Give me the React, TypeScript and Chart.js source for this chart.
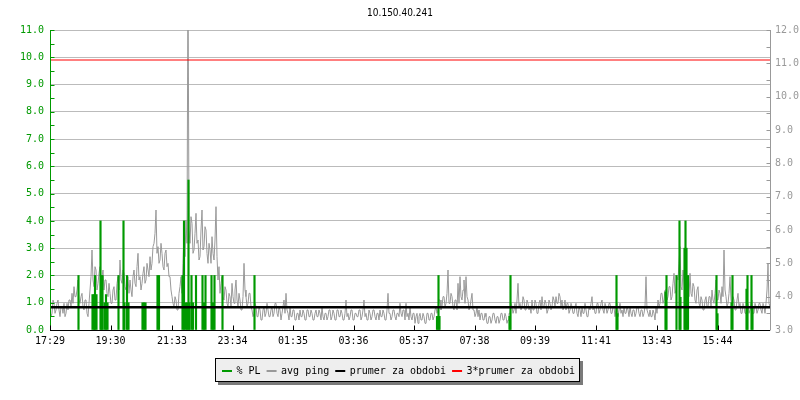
import React, { useEffect, useRef } from "react";
import { Chart, registerables } from "chart.js";

Chart.register(...registerables);

const TITLE = "10.150.40.241";
const START_TIME = "17:29";
const SPAN_MIN = 1440;
const STEP_MIN = 2;
const TIME_LABELS = ["17:29", "19:30", "21:33", "23:34", "01:35", "03:36", "05:37", "07:38", "09:39", "11:41", "13:43", "15:44"];
const SERIES_NAMES = ["% PL", "avg ping", "prumer za obdobi", "3*prumer za obdobi"];

// avg ping (ms), one sample every 2 minutes from 17:29
const PING_MS = [
  3.7, 3.4, 3.5, 3.9, 3.8, 3.5, 3.6, 3.8, 3.9, 3.6, 3.4, 3.7, 3.7, 3.5, 3.8, 3.4, 3.5, 3.8, 3.6, 3.9,
  3.9, 3.7, 4.1, 3.8, 4.3, 4.0, 4.0, 4.2, 4.5, 3.9, 3.8, 4.0, 4.1, 3.7, 3.6, 3.9, 3.9, 3.5, 3.4, 3.8,
  4.2, 4.6, 5.4, 4.5, 4.3, 4.9, 4.8, 4.2, 4.4, 4.7, 4.9, 4.3, 4.6, 4.8, 4.2, 4.5, 4.5, 4.1, 4.0, 4.4,
  4.1, 3.8, 3.8, 4.2, 4.3, 3.9, 3.9, 4.4, 4.6, 4.2, 5.1, 4.5, 4.4, 4.8, 4.7, 4.3, 4.2, 4.5, 4.6, 4.1,
  4.5, 4.2, 4.0, 4.6, 4.8, 4.4, 4.3, 4.9, 5.3, 4.5, 4.6, 4.2, 4.4, 4.7, 4.9, 4.4, 4.5, 5.0, 4.8, 4.6,
  5.2, 4.8, 5.0, 5.5, 5.6, 5.9, 6.6, 5.3, 5.5, 5.0, 5.1, 5.6, 5.3, 4.9, 4.8, 5.3, 5.4, 4.9, 5.0, 4.6,
  4.6, 4.2, 4.0, 3.8, 3.7, 4.0, 3.9, 3.6, 3.6, 4.1, 4.3, 4.6, 4.1, 5.0, 5.9, 5.2, 6.3, 5.6, 14.0, 6.0,
  5.6, 6.4, 6.2, 5.3, 5.4, 5.9, 6.5, 5.6, 5.7, 5.1, 5.2, 6.0, 6.6, 5.4, 5.5, 6.1, 6.0, 5.3, 5.0, 5.6,
  5.4, 5.0, 5.8, 5.3, 5.1, 5.7, 6.7, 5.2, 4.5, 4.9, 4.1, 4.4, 4.6, 4.0, 3.9, 4.3, 4.2, 3.8, 3.7, 4.1,
  4.0, 3.7, 4.4, 4.0, 3.8, 4.2, 4.5, 3.9, 3.7, 4.1, 3.9, 3.6, 3.6, 4.0, 5.0, 4.2, 4.0, 3.7, 3.8, 4.1,
  4.1, 3.7, 3.6, 3.4, 3.5, 3.8, 3.7, 3.4, 3.4, 3.7, 3.6, 3.3, 3.3, 3.6, 3.7, 3.4, 3.5, 3.8, 3.6, 3.4,
  3.4, 3.6, 3.7, 3.4, 3.5, 3.8, 3.8, 3.5, 3.4, 3.7, 3.6, 3.3, 3.5, 3.7, 3.9, 3.5, 4.1, 3.6, 3.5, 3.3,
  3.7, 3.4, 3.4, 3.6, 3.6, 3.3, 3.3, 3.5, 3.5, 3.3, 3.6, 3.4, 3.4, 3.6, 3.5, 3.3, 3.3, 3.6, 3.6, 3.4,
  3.4, 3.6, 3.5, 3.3, 3.3, 3.5, 3.6, 3.4, 3.4, 3.6, 3.5, 3.3, 3.7, 3.4, 3.3, 3.5, 3.5, 3.3, 3.4, 3.6,
  3.6, 3.3, 3.4, 3.6, 3.5, 3.3, 3.3, 3.6, 3.6, 3.4, 3.4, 3.6, 3.5, 3.3, 3.3, 3.5, 3.9, 3.4, 3.5, 3.3,
  3.4, 3.6, 3.6, 3.3, 3.3, 3.5, 3.5, 3.4, 3.4, 3.6, 3.6, 3.3, 3.4, 3.6, 3.9, 3.4, 3.5, 3.3, 3.3, 3.6,
  3.5, 3.3, 3.4, 3.6, 3.6, 3.4, 3.3, 3.5, 3.5, 3.3, 3.6, 3.4, 3.4, 3.6, 3.5, 3.3, 3.3, 3.6, 4.1, 3.5,
  3.5, 3.3, 3.4, 3.6, 3.6, 3.4, 3.3, 3.5, 3.5, 3.4, 3.8, 3.5, 3.4, 3.6, 3.6, 3.3, 3.8, 3.4, 3.5, 3.3,
  3.7, 3.4, 3.3, 3.5, 3.5, 3.2, 3.4, 3.5, 3.2, 3.4, 3.5, 3.3, 3.3, 3.5, 3.4, 3.2, 3.2, 3.5, 3.5, 3.3,
  3.3, 3.5, 3.5, 3.3, 3.4, 3.6, 3.7, 3.5, 3.6, 3.9, 3.9, 3.6, 3.7, 4.0, 4.0, 3.7, 3.8, 4.1, 4.8, 3.8,
  3.8, 4.1, 4.0, 3.7, 3.6, 3.9, 3.9, 3.6, 4.4, 3.8, 4.6, 4.0, 3.9, 4.2, 4.5, 3.8, 4.6, 4.0, 3.9, 3.6,
  3.7, 3.9, 4.1, 3.6, 3.6, 3.4, 3.5, 3.7, 3.4, 3.6, 3.3, 3.5, 3.5, 3.3, 3.3, 3.5, 3.4, 3.2, 3.2, 3.4,
  3.4, 3.2, 3.3, 3.5, 3.5, 3.3, 3.2, 3.4, 3.4, 3.2, 3.3, 3.5, 3.5, 3.3, 3.3, 3.5, 3.4, 3.2, 3.3, 3.5,
  3.5, 3.8, 3.7, 3.5, 3.6, 3.8, 3.5, 3.9, 4.4, 3.7, 3.8, 3.6, 3.7, 4.0, 3.9, 3.6, 3.6, 3.9, 3.8, 3.6,
  3.7, 3.5, 3.9, 3.6, 3.6, 3.9, 3.8, 3.5, 3.5, 3.8, 3.9, 3.6, 4.0, 3.7, 3.7, 3.9, 3.8, 3.5, 3.6, 3.9,
  3.8, 3.6, 3.7, 4.0, 3.9, 3.7, 4.0, 3.8, 3.8, 4.1, 4.0, 3.7, 3.9, 3.6, 3.7, 3.9, 3.6, 3.8, 3.8, 3.5,
  3.6, 3.8, 3.7, 3.5, 3.5, 3.7, 3.8, 3.5, 3.4, 3.7, 3.6, 3.4, 3.7, 3.5, 3.5, 3.8, 3.6, 3.4, 3.4, 3.7,
  3.6, 3.8, 4.0, 3.6, 3.7, 3.5, 3.5, 3.8, 3.8, 3.5, 3.6, 3.8, 3.9, 3.6, 3.5, 3.8, 3.7, 3.5, 3.6, 3.8,
  3.8, 3.5, 3.5, 3.7, 3.7, 3.4, 3.6, 3.8, 3.4, 3.6, 3.8, 3.5, 3.6, 3.4, 3.7, 3.5, 3.5, 3.7, 3.6, 3.4,
  3.7, 3.5, 3.4, 3.6, 3.6, 3.4, 3.5, 3.7, 3.7, 3.5, 3.4, 3.6, 3.6, 3.4, 3.5, 3.7, 4.6, 3.6, 3.5, 3.4,
  3.6, 3.4, 3.4, 3.6, 3.5, 3.3, 3.7, 3.5, 3.9, 3.7, 3.8, 4.1, 4.1, 3.8, 3.9, 4.2, 4.2, 3.9, 4.0, 4.3,
  4.3, 3.9, 4.0, 4.4, 4.7, 4.1, 4.2, 4.6, 4.5, 5.0, 5.5, 4.3, 4.2, 4.8, 4.5, 4.0, 3.9, 4.4, 4.3, 4.0,
  4.7, 4.1, 4.0, 4.4, 4.3, 3.9, 3.8, 4.2, 4.3, 3.8, 3.7, 4.0, 3.9, 3.6, 3.6, 3.9, 4.0, 3.7, 3.7, 4.0,
  4.0, 3.7, 4.2, 3.9, 3.8, 4.1, 4.5, 3.9, 3.9, 4.2, 4.1, 3.8, 4.3, 4.0, 5.4, 4.2, 4.0, 3.7, 3.8, 4.1,
  4.6, 3.9, 3.7, 4.0, 3.9, 3.6, 3.6, 3.9, 4.1, 3.7, 3.8, 3.5, 3.5, 3.8, 3.7, 3.5, 3.5, 3.8, 3.8, 3.5,
  3.6, 3.8, 3.9, 3.5, 3.5, 3.8, 3.7, 3.5, 3.6, 3.8, 3.8, 3.6, 3.5, 3.8, 3.7, 3.5, 3.8, 4.2, 5.0, 3.8, 3.7,
];

// packet loss (%), minutes after 17:29 where loss was nonzero
const PL_MIN = [
  57, 85, 88, 90, 93, 101, 103, 105, 109, 112,
  115, 137, 147, 149, 154, 157, 185, 188, 191, 215,
  218, 265, 268, 271, 274, 277, 279, 283, 286, 292,
  305, 308, 311, 323, 326, 329, 345, 409, 774, 777,
  779, 919, 921, 1133, 1135, 1231, 1233, 1253, 1259, 1261,
  1269, 1271, 1273, 1276, 1333, 1335, 1363, 1365, 1393, 1395,
  1403, 1405,
];
const PL_PCT = [
  2.0, 1.3, 1.3, 2.0, 1.3, 4.0, 2.0, 2.0, 1.0, 1.3,
  1.0, 2.0, 4.0, 1.0, 2.0, 1.0, 1.0, 1.0, 1.0, 2.0,
  2.0, 2.0, 4.0, 1.0, 1.0, 5.5, 1.0, 2.0, 1.0, 2.0,
  2.0, 1.0, 2.0, 2.0, 1.0, 2.0, 2.0, 2.0, 0.5, 2.0,
  0.5, 0.5, 2.0, 2.0, 0.6, 1.4, 2.0, 2.0, 4.0, 1.2,
  3.0, 4.0, 3.0, 2.0, 2.0, 0.6, 1.0, 2.0, 1.5, 2.0,
  2.0, 0.8,
];

const AVG_MS = 3.68;
const AVG3_MS = 11.1;

const GREEN = "#009900";
const GREY = "#999999";
const BLACK = "#000000";
const RED = "#ff0000";
const MONO = '"DejaVu Sans Mono", monospace';

const toMin = (t: string) => {
  const [h, m] = t.split(":").map(Number);
  return h * 60 + m;
};
const TICK_POS = TIME_LABELS.map((t) => (toMin(t) - toMin(START_TIME) + SPAN_MIN) % SPAN_MIN);

const framePlugin = {
  id: "frame",
  afterDatasetsDraw(chart: any) {
    const { ctx, chartArea: a, scales } = chart;
    const yL = scales.yL;
    const yR = scales.yR;
    const x = scales.x;
    ctx.save();
    ctx.lineWidth = 1;

    const lx = Math.round(a.left) + 0.5;
    ctx.strokeStyle = GREEN;
    ctx.beginPath();
    ctx.moveTo(lx, a.top);
    ctx.lineTo(lx, a.bottom);
    for (let v = 0; v <= yL.max + 1e-9; v += 0.5) {
      const py = Math.round(yL.getPixelForValue(v)) + 0.5;
      ctx.moveTo(lx, py);
      ctx.lineTo(lx + 4, py);
    }
    ctx.stroke();

    const rx = Math.round(a.right) + 0.5;
    ctx.strokeStyle = GREY;
    ctx.beginPath();
    ctx.moveTo(rx, a.top);
    ctx.lineTo(rx, a.bottom);
    for (let v = yR.min; v <= yR.max + 1e-9; v += 0.5) {
      const py = Math.round(yR.getPixelForValue(v)) + 0.5;
      ctx.moveTo(rx, py);
      ctx.lineTo(rx - 4, py);
    }
    ctx.stroke();

    const by = Math.round(a.bottom) + 0.5;
    ctx.strokeStyle = BLACK;
    ctx.beginPath();
    ctx.moveTo(a.left, by);
    ctx.lineTo(a.right, by);
    TICK_POS.forEach((m) => {
      const px = Math.round(x.getPixelForValue(m)) + 0.5;
      ctx.moveTo(px, by);
      ctx.lineTo(px, by - 5);
    });
    ctx.stroke();
    ctx.restore();
  },
  afterDraw(chart: any) {
    const { ctx } = chart;
    ctx.save();
    ctx.fillStyle = BLACK;
    ctx.font = '10px "Liberation Sans Narrow", "DejaVu Sans Condensed", sans-serif';
    ctx.textAlign = "center";
    ctx.textBaseline = "middle";
    ctx.fillText(TITLE, 400, 13);

    // legend box
    const bx = 215, bw = 365, bTop = 358, bh = 24;
    ctx.fillStyle = "#7a7a7a";
    ctx.fillRect(bx + 3, bTop + 3, bw, bh);
    ctx.fillStyle = "#eeeeee";
    ctx.fillRect(bx, bTop, bw, bh);
    ctx.strokeStyle = BLACK;
    ctx.lineWidth = 1;
    ctx.strokeRect(bx + 0.5, bTop + 0.5, bw - 1, bh - 1);

    ctx.font = "10px " + MONO;
    ctx.textAlign = "left";
    ctx.textBaseline = "middle";
    const cy = bTop + bh / 2 + 1;
    let px = 222;
    chart.data.datasets.forEach((ds: any) => {
      const col = ds.type === "bar" ? ds.backgroundColor : ds.borderColor;
      ctx.strokeStyle = col;
      ctx.lineWidth = 2;
      ctx.beginPath();
      ctx.moveTo(px, cy);
      ctx.lineTo(px + 10, cy);
      ctx.stroke();
      ctx.fillStyle = BLACK;
      ctx.fillText(ds.label, px + 14.5, cy);
      px += 14.5 + ctx.measureText(ds.label).width + 6;
    });
    ctx.restore();
  },
};

export default function App() {
  const ref = useRef<HTMLCanvasElement | null>(null);
  useEffect(() => {
    if (!ref.current) return;
    const font = { family: MONO, size: 10 };
    const chart = new Chart(ref.current, {
      type: "bar",
      data: {
        datasets: [
          {
            type: "bar",
            label: SERIES_NAMES[0],
            data: PL_MIN.map((m, i) => ({ x: m, y: PL_PCT[i] })),
            backgroundColor: GREEN,
            borderWidth: 0,
            barThickness: 1.5,
            xAxisID: "x",
            yAxisID: "yL",
            order: 2,
          },
          {
            type: "line",
            label: SERIES_NAMES[1],
            data: PING_MS.map((v, i) => ({ x: i * STEP_MIN, y: v })),
            borderColor: GREY,
            borderWidth: 1,
            pointRadius: 0,
            tension: 0,
            xAxisID: "x",
            yAxisID: "yR",
            order: 3,
          },
          {
            type: "line",
            label: SERIES_NAMES[2],
            data: [
              { x: 0, y: AVG_MS },
              { x: SPAN_MIN, y: AVG_MS },
            ],
            borderColor: BLACK,
            borderWidth: 2.5,
            pointRadius: 0,
            xAxisID: "x",
            yAxisID: "yR",
            order: 1,
          },
          {
            type: "line",
            label: SERIES_NAMES[3],
            data: [
              { x: 0, y: AVG3_MS },
              { x: SPAN_MIN, y: AVG3_MS },
            ],
            borderColor: RED,
            borderWidth: 1,
            pointRadius: 0,
            xAxisID: "x",
            yAxisID: "yR",
            order: 0,
          },
        ] as any,
      },
      options: {
        responsive: false,
        animation: false,
        devicePixelRatio: 1,
        layout: { padding: { top: 30, left: 0, right: 0, bottom: 0 } },
        plugins: {
          legend: { display: false },
          tooltip: { enabled: false },
          title: { display: false },
        },
        scales: {
          x: {
            type: "linear",
            min: 0,
            max: SPAN_MIN,
            offset: false,
            grid: { display: false, drawTicks: false },
            border: { display: false },
            afterBuildTicks: (s: any) => {
              s.ticks = TICK_POS.map((v) => ({ value: v }));
            },
            afterFit: (s: any) => {
              s.height = 70;
            },
            ticks: {
              autoSkip: false,
              maxRotation: 0,
              minRotation: 0,
              padding: 5,
              color: BLACK,
              font,
              callback: (_v: any, i: number) => TIME_LABELS[i],
            },
          },
          yL: {
            type: "linear",
            position: "left",
            min: 0,
            max: 11,
            afterFit: (s: any) => {
              s.width = 50;
            },
            ticks: {
              stepSize: 1,
              padding: 6,
              color: GREEN,
              font,
              callback: (v: any) => Number(v).toFixed(1),
            },
            grid: { color: "#bbbbbb", drawTicks: false },
            border: { display: false },
          },
          yR: {
            type: "linear",
            position: "right",
            min: 3,
            max: 12,
            afterFit: (s: any) => {
              s.width = 30;
            },
            ticks: {
              stepSize: 1,
              padding: 5,
              color: GREY,
              font,
              callback: (v: any) => Number(v).toFixed(1),
            },
            grid: { display: false, drawTicks: false },
            border: { display: false },
          },
        },
      } as any,
      plugins: [framePlugin],
    });
    return () => chart.destroy();
  }, []);
  return (
    <canvas
      ref={ref}
      width={800}
      height={400}
      style={{ position: "absolute", left: 0, top: 0, width: 800, height: 400 }}
    />
  );
}
